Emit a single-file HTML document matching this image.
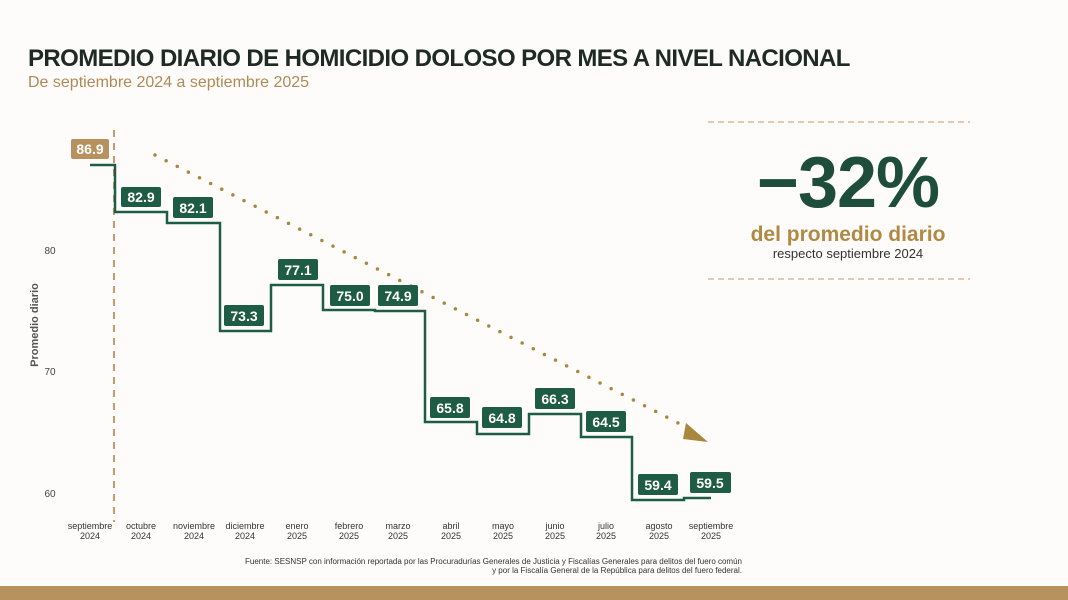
<!DOCTYPE html>
<html><head><meta charset="utf-8"><style>
body{margin:0;width:1068px;height:600px;background:#fdfcfa;font-family:"Liberation Sans",sans-serif;position:relative;overflow:hidden}
.t{position:absolute;white-space:nowrap}
</style></head><body>
<div class="t" style="left:28px;top:45px;font-size:24px;font-weight:bold;color:#1f2a24;letter-spacing:-0.6px">PROMEDIO DIARIO DE HOMICIDIO DOLOSO POR MES A NIVEL NACIONAL</div>
<div class="t" style="left:28px;top:74px;font-size:16px;color:#b08a55">De septiembre 2024 a septiembre 2025</div>
<svg width="1068" height="600" style="position:absolute;left:0;top:0" font-family="Liberation Sans, sans-serif">
<line x1="114" y1="130" x2="114" y2="522" stroke="#c79a68" stroke-width="2" stroke-dasharray="7,6"/>
<line x1="155" y1="155" x2="688" y2="428" stroke="#a8883e" stroke-width="3.5" stroke-dasharray="0,12.5" stroke-linecap="round"/>
<polygon points="686,423 708,442 683,439" fill="#a8883e"/>
<polyline fill="none" stroke="#1f5c46" stroke-width="2.5" points="90,165 115,165 115,212 167,212 167,223 220,223 220,331 271,331 271,285 323,285 323,310 375,310 375,311 425,311 425,422 477,422 477,434 529,434 529,414 581,414 581,437 632,437 632,500 684,500 684,498 711,498"/>
<g font-size="10" fill="#444" text-anchor="middle">
<text x="50" y="254">80</text><text x="50" y="375">70</text><text x="50" y="497">60</text>
<text x="38" y="325" transform="rotate(-90 38 325)" font-size="11" font-weight="bold" fill="#555">Promedio diario</text>
</g>
<g font-size="9" fill="#333" text-anchor="middle">
<text x="90" y="529">septiembre</text><text x="90" y="539">2024</text>
<text x="141" y="529">octubre</text><text x="141" y="539">2024</text>
<text x="194" y="529">noviembre</text><text x="194" y="539">2024</text>
<text x="245" y="529">diciembre</text><text x="245" y="539">2024</text>
<text x="297" y="529">enero</text><text x="297" y="539">2025</text>
<text x="349" y="529">febrero</text><text x="349" y="539">2025</text>
<text x="398" y="529">marzo</text><text x="398" y="539">2025</text>
<text x="451" y="529">abril</text><text x="451" y="539">2025</text>
<text x="503" y="529">mayo</text><text x="503" y="539">2025</text>
<text x="555" y="529">junio</text><text x="555" y="539">2025</text>
<text x="606" y="529">julio</text><text x="606" y="539">2025</text>
<text x="659" y="529">agosto</text><text x="659" y="539">2025</text>
<text x="711" y="529">septiembre</text><text x="711" y="539">2025</text>
</g>
<g font-size="14" font-weight="bold" fill="#fff" text-anchor="middle">
<rect x="71" y="139" width="38" height="20" rx="2" fill="#b8925e"/><text x="90" y="154">86.9</text>
<rect x="121" y="187" width="40" height="20" rx="2" fill="#1f5c46"/><text x="141" y="202">82.9</text>
<rect x="173" y="197" width="40" height="21" rx="2" fill="#1f5c46"/><text x="193" y="213">82.1</text>
<rect x="224" y="305" width="40" height="21" rx="2" fill="#1f5c46"/><text x="244" y="321">73.3</text>
<rect x="278" y="259" width="40" height="21" rx="2" fill="#1f5c46"/><text x="298" y="275">77.1</text>
<rect x="330" y="285" width="40" height="21" rx="2" fill="#1f5c46"/><text x="350" y="301">75.0</text>
<rect x="378" y="285" width="40" height="21" rx="2" fill="#1f5c46"/><text x="398" y="301">74.9</text>
<rect x="430" y="397" width="40" height="21" rx="2" fill="#1f5c46"/><text x="450" y="413">65.8</text>
<rect x="482" y="407" width="40" height="21" rx="2" fill="#1f5c46"/><text x="502" y="423">64.8</text>
<rect x="535" y="388" width="40" height="21" rx="2" fill="#1f5c46"/><text x="555" y="404">66.3</text>
<rect x="586" y="411" width="40" height="21" rx="2" fill="#1f5c46"/><text x="606" y="427">64.5</text>
<rect x="638" y="474" width="40" height="21" rx="2" fill="#1f5c46"/><text x="658" y="490">59.4</text>
<rect x="690" y="472" width="41" height="21" rx="2" fill="#1f5c46"/><text x="710" y="488">59.5</text>
</g>
<line x1="708" y1="122" x2="970" y2="122" stroke="#c79a68" stroke-width="1" stroke-dasharray="6,4"/>
<line x1="708" y1="279" x2="970" y2="279" stroke="#c79a68" stroke-width="1" stroke-dasharray="6,4"/>
<text x="848" y="207" text-anchor="middle" font-size="72" font-weight="bold" fill="#1f4d3c" letter-spacing="-1">−32%</text>
<text x="848" y="241" text-anchor="middle" font-size="21" font-weight="bold" fill="#b08a45">del promedio diario</text>
<text x="848" y="258" text-anchor="middle" font-size="13" fill="#333">respecto septiembre 2024</text>
<g font-size="8" fill="#333" text-anchor="end">
<text x="742" y="564">Fuente: SESNSP con información reportada por las Procuradurías Generales de Justicia y Fiscalías Generales para delitos del fuero común</text>
<text x="742" y="573">y por la Fiscalía General de la República para delitos del fuero federal.</text>
</g>
<rect x="0" y="586" width="1068" height="14" fill="#b8925e"/>
</svg>
</body></html>
